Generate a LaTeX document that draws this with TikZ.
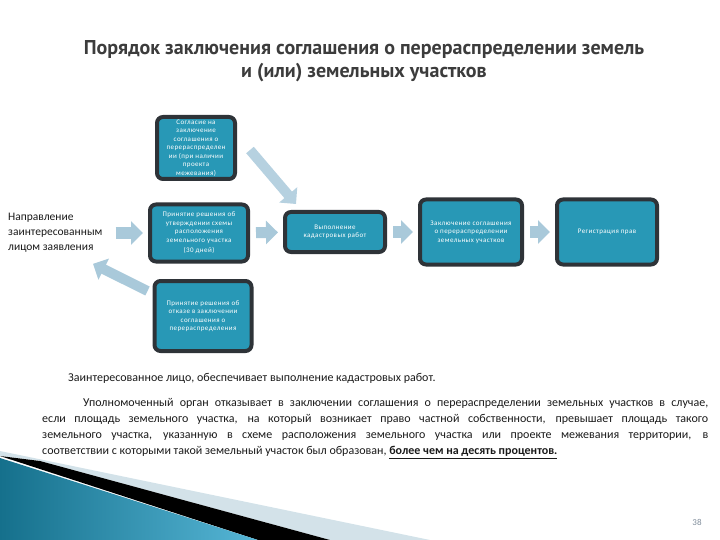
\documentclass[tikz,border=0pt]{standalone}
\usepackage{fontspec}
\setmainfont{Carlito}
\newfontfamily\titlefont{PT Sans}
\newfontfamily\boxfont[LetterSpace=6]{Carlito}
\usetikzlibrary{arrows.meta}
\definecolor{titlegray}{HTML}{3C3C3C}
\definecolor{boxfill}{HTML}{2898B6}
\definecolor{boxline}{HTML}{2E3338}
\definecolor{arrowblue}{HTML}{A9C9DA}
\definecolor{textdark}{HTML}{1A1A1A}
\definecolor{numgray}{HTML}{7F8C9A}
\definecolor{swooshdark}{HTML}{15708C}
\definecolor{swooshlight}{HTML}{56B6D6}
\definecolor{swooshpale}{HTML}{D3E2E9}
\tikzset{
  stagebox/.style={rectangle, rounded corners=6pt, draw=boxline, line width=4pt,
    fill=boxfill, text=white, align=center, inner sep=2pt,
    font=\boxfont\fontsize{7}{8.5}\selectfont},
  flow/.style={draw=arrowblue, line width=11pt,
    -{Triangle[width=23pt,length=12pt]}, shorten <=6pt, shorten >=5pt},
}
\begin{document}
\begin{tikzpicture}[x=1pt, y=-1pt]
  \useasboundingbox (0,0) rectangle (720,540);
  % bottom left swoosh
  \fill[swooshpale] (0,451) -- (430,540) -- (330,540) -- (40,461) -- (0,456) -- cycle;
  \fill[black] (0,456) -- (40,461) -- (330,540) -- (258,540) -- cycle;
  \shade[left color=swooshdark, right color=swooshlight] (0,458) -- (258,540) -- (0,540) -- cycle;
  % title
  \node[font=\titlefont\bfseries\fontsize{20}{23}\selectfont, text=titlegray, align=center]
    (title) at (364,61) {Порядок заключения соглашения о перераспределении земель\\и (или) земельных участков};
  % stages
  \node[stagebox, minimum width=78pt, minimum height=62pt] (soglasie) at (196,148)
    {Согласие на\\заключение\\соглашения о\\перераспределен\\ии (при наличии\\проекта\\межевания)};
  \node[anchor=west, align=left, text=textdark, inner sep=0pt,
    font=\fontsize{11.5}{15}\selectfont] (napr) at (8,233)
    {Направление\\заинтересованным\\лицом заявления};
  \node[stagebox, minimum width=98pt, minimum height=57pt] (utv) at (199,233)
    {Принятие решения об\\утверждении схемы\\расположения\\земельного участка\\[2pt](30 дней)};
  \node[stagebox, minimum width=100pt, minimum height=40pt] (vypoln) at (335,232)
    {Выполнение\\кадастровых работ};
  \node[stagebox, minimum width=102pt, minimum height=65pt] (zakl) at (471,232)
    {Заключение соглашения\\о перераспределении\\земельных участков};
  \node[stagebox, minimum width=100pt, minimum height=65pt] (regist) at (607,232)
    {Регистрация прав};
  \node[stagebox, minimum width=97pt, minimum height=70pt] (otkaz) at (203,316)
    {Принятие решения об\\отказе в заключении\\соглашения о\\перераспределения};
  % arrows
  \draw[flow, shorten <=13pt] (napr) -- (utv);
  \draw[flow] (utv) -- (vypoln);
  \draw[flow] (vypoln) -- (zakl);
  \draw[flow] (zakl) -- (regist);
  \draw[flow, line width=10pt, shorten <=0pt, shorten >=0pt, draw=arrowblue!85]
    ([xshift=13pt,yshift=-2pt]soglasie.east) -- ([xshift=13pt,yshift=6pt]vypoln.north west);
  \draw[flow, line width=10pt, shorten <=0pt, shorten >=0pt]
    ([xshift=-5pt,yshift=-12pt]otkaz.north west) -- ([xshift=85pt,yshift=-11pt]napr.south west);
  % notes
  \node[anchor=west, text=textdark, inner sep=0pt, font=\fontsize{12}{14}\selectfont]
    (note) at (68,378) {Заинтересованное лицо, обеспечивает выполнение кадастровых работ.};
  \node[anchor=north west, text width=666pt, align=justify, inner sep=0pt, text=textdark,
    font=\fontsize{12}{16.2}\selectfont] (para) at (42,398)
    {\hspace*{41pt}Уполномоченный орган отказывает в заключении соглашения о перераспределении земельных участков в случае,\linebreak
     если площадь земельного участка, на который возникает право частной собственности, превышает площадь такого\linebreak
     земельного участка, указанную в схеме расположения земельного участка или проекте межевания территории, в\linebreak
     соответствии с которыми такой земельный участок был образован, \textbf{\underline{более чем на десять процентов.}}};
  \node[text=numgray, font=\fontsize{9}{9}\selectfont] (pagenum) at (697,522) {38};
\end{tikzpicture}
\end{document}
